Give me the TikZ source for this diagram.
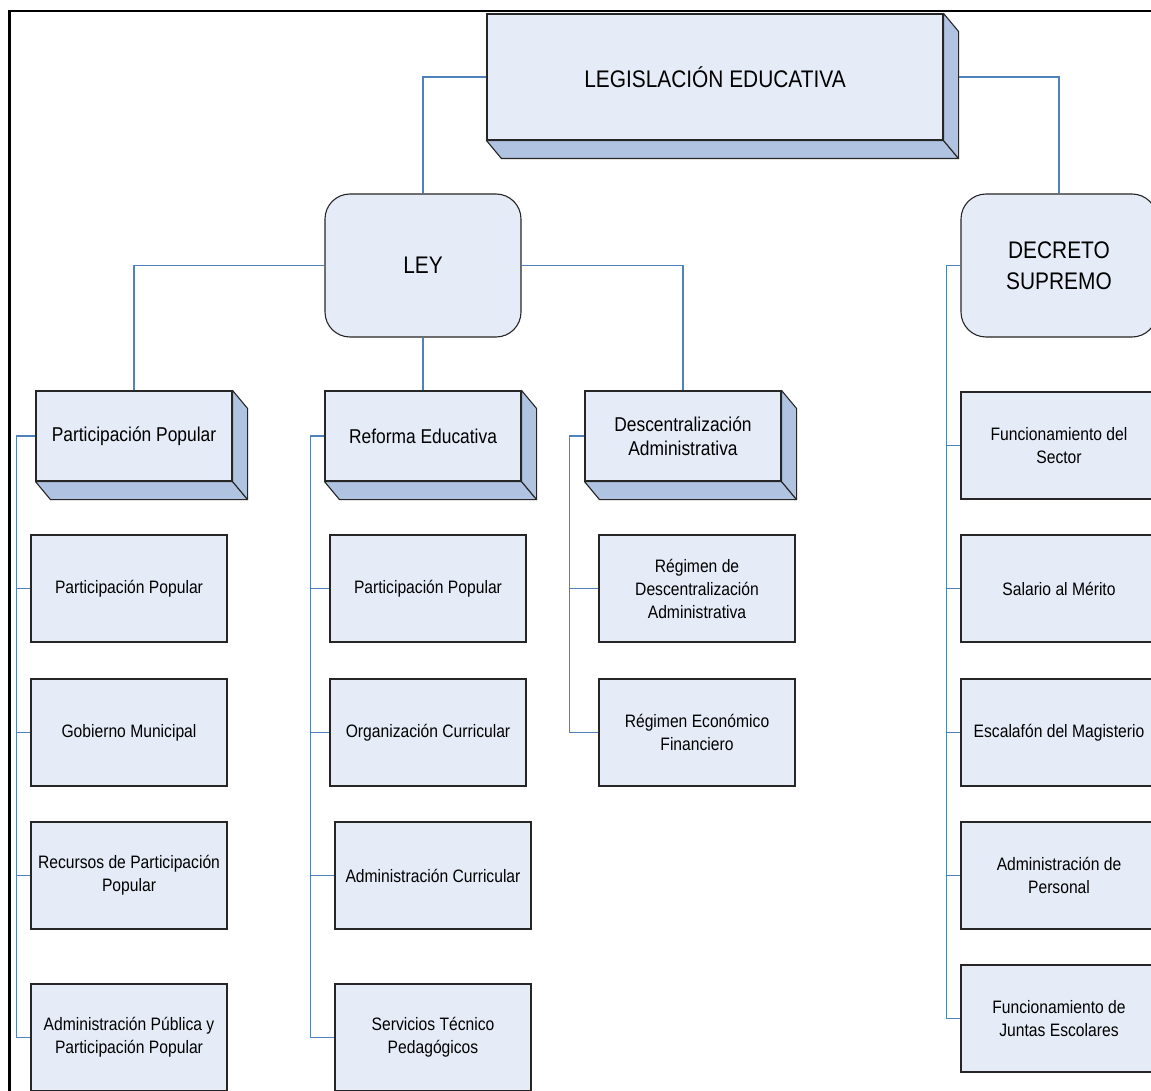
\documentclass[tikz,border=0pt]{standalone}
\usepackage{fontspec}
\setmainfont{Liberation Sans}[FakeStretch=0.87]
\definecolor{facefill}{HTML}{E6ECF7}
\definecolor{sidefill}{HTML}{B0C4E2}
\definecolor{linkblue}{HTML}{4F81BD}
\definecolor{edgegray}{HTML}{262626}

\tikzset{
  every node/.style={inner sep=0pt, align=center},
  leaf/.style={draw=edgegray, line width=1.1pt, fill=facefill,
    minimum width=196pt, minimum height=107pt,
    font=\fontsize{18}{23}\selectfont},
  solid front/.style={draw=edgegray, line width=1.1pt, fill=facefill,
    minimum width=196pt, minimum height=90pt,
    font=\fontsize{20}{24}\selectfont},
  roundbox/.style={draw=edgegray, line width=1.1pt, fill=facefill,
    rounded corners=25pt, minimum width=196pt, minimum height=143pt,
    font=\fontsize{24}{31}\selectfont},
  side/.style={draw=edgegray, line width=1.1pt, fill=sidefill, line join=round},
  link/.style={draw=linkblue, line width=1.5pt},
  frame/.style={draw=black, line width=2.6pt}
}

\begin{document}
\begin{tikzpicture}[x=1pt, y=-1pt]
\useasboundingbox (0,0) rectangle (1151,1091);
\clip (0,0) rectangle (1151,1091);
\fill[white] (0,0) rectangle (1151,1091);

% outer frame
\draw[frame] (9.7,11.2) rectangle (1250,1200);

% root and the two branches
\node[solid front, minimum width=456pt, minimum height=126pt,
      font=\fontsize{24}{31}\selectfont] (top) at (715,77) {LEGISLACIÓN EDUCATIVA};
\node[roundbox] (ley) at (423,265.5) {LEY};
\node[roundbox] (dec) at (1059,265.5) {DECRETO\\SUPREMO};

% second level (solid boxes)
\node[solid front] (pp) at (134,436) {Participación Popular};
\node[solid front] (re) at (423,436) {Reforma Educativa};
\node[solid front] (da) at (683,436) {Descentralización\\Administrativa};

% extruded faces of the solid boxes
\foreach \n/\dx/\dy in {top/15/18, pp/15/18, re/15/18, da/15/18} {
  \path[side] (\n.south west) -- (\n.south east)
    -- ([shift={(\dx,\dy)}]\n.south east) -- ([shift={(\dx,\dy)}]\n.south west) -- cycle;
  \path[side] (\n.north east) -- ([shift={(\dx,\dy)}]\n.north east)
    -- ([shift={(\dx,\dy)}]\n.south east) -- (\n.south east) -- cycle;
}

% first column
\node[leaf] (a1) at (129,588.5) {Participación Popular};
\node[leaf] (a2) at (129,732.5) {Gobierno Municipal};
\node[leaf] (a3) at (129,875.5) {Recursos de Participación\\Popular};
\node[leaf] (a4) at (129,1037.5) {Administración Pública y\\Participación Popular};

% second column
\node[leaf] (b1) at (428,588.5) {Participación Popular};
\node[leaf] (b2) at (428,732.5) {Organización Curricular};
\node[leaf] (b3) at (433,875.5) {Administración Curricular};
\node[leaf] (b4) at (433,1037.5) {Servicios Técnico\\Pedagógicos};

% third column
\node[leaf] (c1) at (697,588.5) {Régimen de\\Descentralización\\Administrativa};
\node[leaf] (c2) at (697,732.5) {Régimen Económico\\Financiero};

% decree column
\node[leaf] (d1) at (1059,445.5) {Funcionamiento del\\Sector};
\node[leaf] (d2) at (1059,588.5) {Salario al Mérito};
\node[leaf] (d3) at (1059,732.5) {Escalafón del Magisterio};
\node[leaf] (d4) at (1059,875.5) {Administración de\\Personal};
\node[leaf] (d5) at (1059,1018.5) {Funcionamiento de\\Juntas Escolares};

% connectors
\draw[link] (top.west) -| (ley.north);
\draw[link] ([xshift=15pt]top.east) -| (dec.north);
\draw[link] (ley.west) -| (pp.north);
\draw[link] (ley.east) -| (da.north);
\draw[link] (ley.south) -- (re.north);

\foreach \c in {a1,a2,a3,a4} \draw[link] (pp.west) -- ++(-19,0) |- (\c.west);
\foreach \c in {b1,b2,b3,b4} \draw[link] (re.west) -- ++(-14,0) |- (\c.west);
\foreach \c in {c1,c2} \draw[link] (da.west) -- ++(-15,0) |- (\c.west);
\foreach \c in {d1,d2,d3,d4,d5} \draw[link] (dec.west) -- ++(-14,0) |- (\c.west);
\end{tikzpicture}
\end{document}
